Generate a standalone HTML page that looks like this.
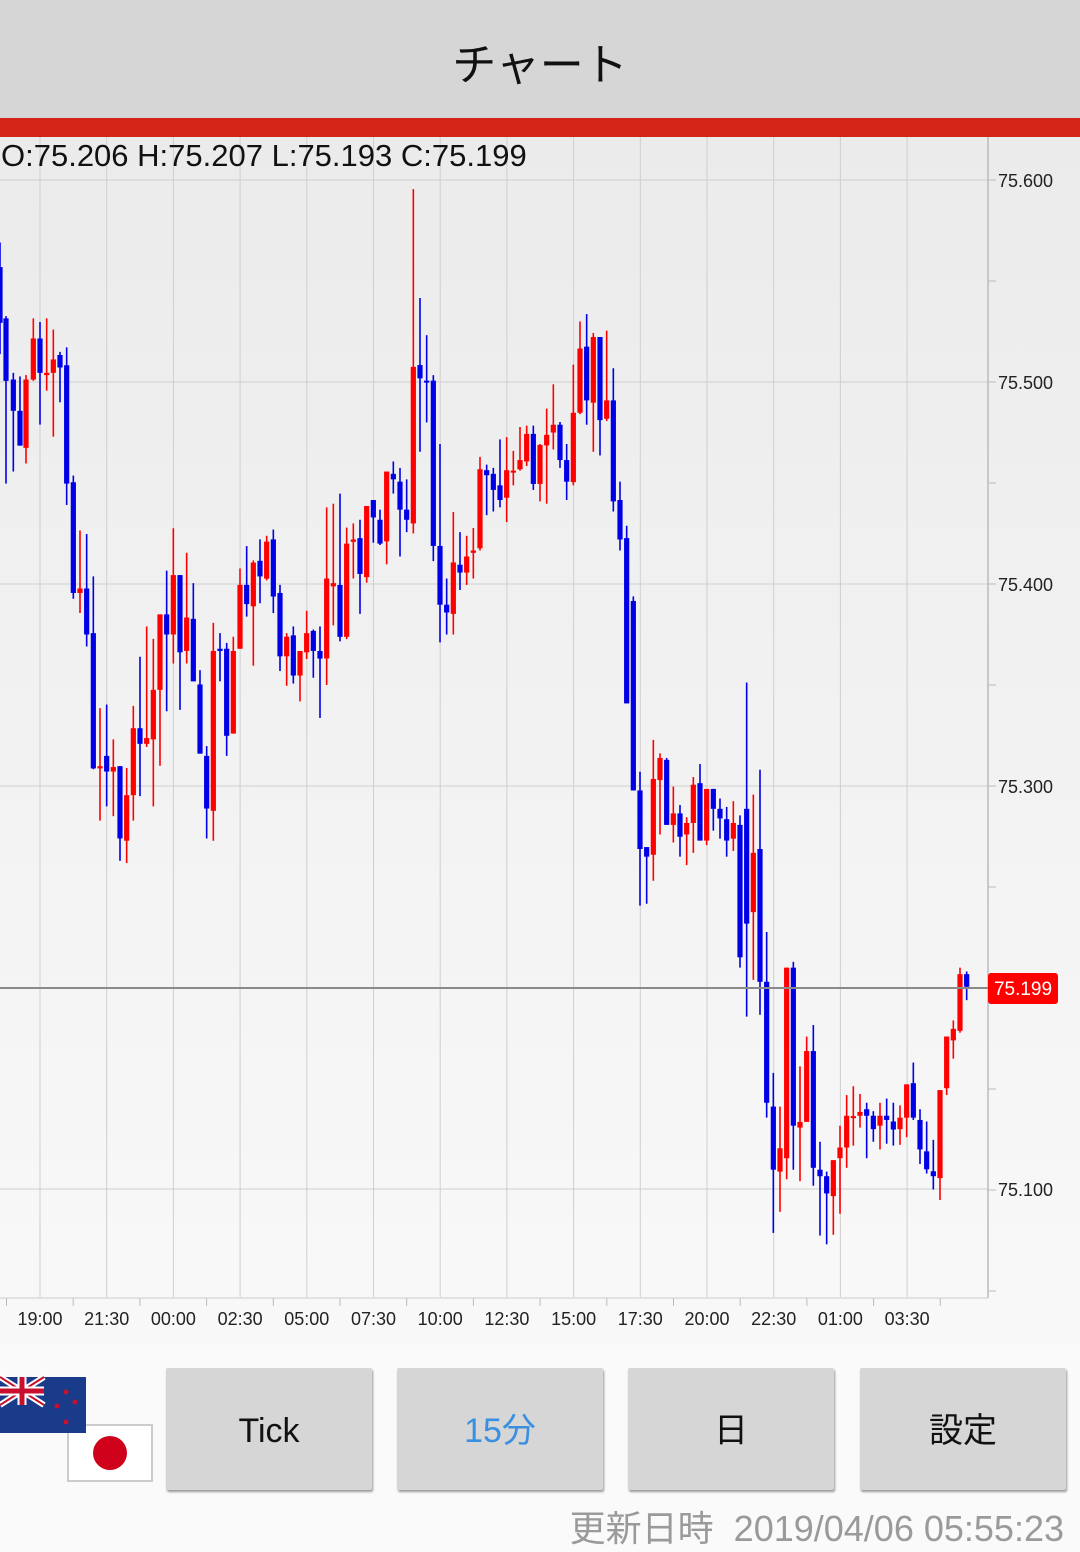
<!DOCTYPE html>
<html><head><meta charset="utf-8">
<style>
html,body{margin:0;padding:0;}
body{width:1080px;height:1551px;overflow:hidden;background:#fafafa;font-family:"Liberation Sans","Noto Sans CJK JP",sans-serif;position:relative;}
.hdr{position:absolute;left:0;top:0;width:1080px;height:118px;background:#d6d6d6;text-align:center;line-height:132px;font-size:44px;color:#111;}
.bar{position:absolute;left:0;top:118px;width:1080px;height:19px;background:#d42417;}
.btn{position:absolute;top:1368px;height:122px;width:206px;background:#d6d6d6;box-shadow:1px 2px 2px #999;text-align:center;line-height:126px;font-size:34px;color:#111;border-radius:2px;}
.foot{position:absolute;right:16px;top:1500px;font-size:36px;color:#9a9a9a;}
</style></head><body>
<div class="hdr">チャート</div>
<div class="bar"></div>
<svg id="ch" width="1080" height="1225" style="position:absolute;left:0;top:137px" xmlns="http://www.w3.org/2000/svg">
<defs><linearGradient id="g" x1="0" y1="0" x2="0" y2="1"><stop offset="0" stop-color="#ebebeb"/><stop offset="1" stop-color="#f9f9f9"/></linearGradient></defs>
<rect x="0" y="0" width="1080" height="1225" fill="url(#g)"/>
<g id="grid"></g>
<g id="cs"></g>
<text x="1" y="29" font-size="31" fill="#111" font-family="Liberation Sans, sans-serif">O:75.206 H:75.207 L:75.193 C:75.199</text>
</svg>
<div class="btn" style="left:166px">Tick</div>
<div class="btn" style="left:397px;color:#3b8fe0">15分</div>
<div class="btn" style="left:628px">日</div>
<div class="btn" style="left:860px">設定</div>
<svg width="160" height="115" style="position:absolute;left:0;top:1372px" xmlns="http://www.w3.org/2000/svg">
<rect x="68" y="53" width="84" height="56" fill="#fff" stroke="#ccc" stroke-width="2"/>
<circle cx="110" cy="81" r="17" fill="#d0021b"/>
<rect x="0" y="5" width="86" height="56" fill="#1a3a8a"/>
<path d="M0 5 L44 33 M44 5 L0 33" stroke="#fff" stroke-width="6"/>
<path d="M0 5 L44 33 M44 5 L0 33" stroke="#c8102e" stroke-width="2"/>
<path d="M22 5 V33 M0 19 H44" stroke="#fff" stroke-width="9"/>
<path d="M22 5 V33 M0 19 H44" stroke="#c8102e" stroke-width="5"/>
<circle cx="66" cy="20" r="2.5" fill="#c8102e"/><circle cx="57" cy="34" r="2.5" fill="#c8102e"/><circle cx="75" cy="30" r="2.5" fill="#c8102e"/><circle cx="66" cy="50" r="2.5" fill="#c8102e"/>
</svg>
<div class="foot">更新日時&nbsp; 2019/04/06 05:55:23</div>
<script>
var NS="http://www.w3.org/2000/svg",OY=137;
function el(p,t,a,txt){var e=document.createElementNS(NS,t);for(var k in a)e.setAttribute(k,a[k]);if(txt)e.textContent=txt;p.appendChild(e);return e;}
var g=document.getElementById('grid');
var lv=[[180,"75.600"],[382,"75.500"],[584,"75.400"],[786,"75.300"],[1189,"75.100"]];
[180,382,584,786,988,1189].forEach(function(y){el(g,'line',{x1:0,x2:988,y1:y-OY,y2:y-OY,stroke:'#cfcfcf','stroke-width':1});});
for(var y=180;y<1300;y+=101){el(g,'line',{x1:988,x2:996,y1:y-OY,y2:y-OY,stroke:'#bbb','stroke-width':1});}
lv.forEach(function(l){el(g,'text',{x:998,y:l[0]-OY+7,'font-size':18,fill:'#222','font-family':'Liberation Sans, sans-serif'},l[1]);});
var labs=["19:00","21:30","00:00","02:30","05:00","07:30","10:00","12:30","15:00","17:30","20:00","22:30","01:00","03:30"];
for(var i=0;i<14;i++){var x=40+i*66.7;el(g,'line',{x1:x,x2:x,y1:0,y2:1160,stroke:'#cfcfcf','stroke-width':1});
el(g,'text',{x:x,y:1318-OY+7,'font-size':18,fill:'#222','text-anchor':'middle','font-family':'Liberation Sans, sans-serif'},labs[i]);}
for(var i=0;i<15;i++){var x=6.5+i*66.7;el(g,'line',{x1:x,x2:x,y1:1161,y2:1169,stroke:'#bbb'});}
el(g,'line',{x1:988,x2:988,y1:0,y2:1161,stroke:'#bbb','stroke-width':1.5});
el(g,'line',{x1:0,x2:988,y1:1161,y2:1161,stroke:'#ccc','stroke-width':1});
var cs=document.getElementById('cs');
function add(offX,offY,sy,arr){arr.forEach(function(c){var x=offX+c[0]/3,col=c[1]=='R'?'#f00':'#0000e6';
var bt=offY+c[2]/sy-OY,bb=offY+c[3]/sy-OY,wt=offY+c[4]/sy-OY,wb=offY+c[5]/sy-OY;
el(cs,'line',{x1:x,x2:x,y1:wt,y2:wb,stroke:col,'stroke-width':1.6});
el(cs,'rect',{x:x-2.6,y:bt,width:5.2,height:Math.max(2,bb-bt),fill:col});});}
add(0,180,2.24,[[0,'B',195,320,140,390],[18,'B',310,450,305,680],[40,'B',447,517,432,653],[60,'B',517,595,440,595],[78,'R',447,600,437,635],[100,'R',355,447,310,450],[120,'B',355,432,318,548],[140,'R',432,437,310,472],[160,'R',402,432,335,575],[180,'B',392,420,385,498],[200,'B',415,680,375,728],[220,'B',677,925,662,938],[240,'R',915,925,785,970],[260,'B',915,1018,793,1045],[280,'B',1015,1318,888,1320],[300,'R',1313,1318,1183,1435],[320,'B',1290,1325,1175,1403],[340,'R',1315,1325,1253,1425],[360,'B',1313,1475,1313,1525],[380,'R',1378,1480,1317,1530],[400,'R',1228,1378,1178,1435],[420,'B',1228,1263,1068,1380],[440,'R',1250,1263,1000,1270],[460,'R',1142,1253,1028,1403],[480,'R',973,1142,973,1312],[500,'B',973,1018,875,1190],[520,'R',885,1018,780,1083],[540,'B',885,1058,885,1187],[560,'R',980,1055,835,1083],[580,'B',983,1123,903,1123],[600,'B',1130,1285,1098,1285],[620,'B',1290,1408,1268,1475],[640,'R',1055,1413,992,1480],[660,'B',1050,1055,1015,1123],[680,'B',1050,1245,1037,1290],[700,'R',1055,1240,1023,1240],[720,'R',907,1050,870,1050],[740,'B',907,950,820,978],[760,'R',857,955,852,1088],[780,'B',853,888,805,948],[800,'R',810,893,797,897],[820,'B',805,933,783,970],[840,'B',925,1067,907,1100],[860,'R',1023,1067,1015,1133],[880,'B',1020,1110,1000,1128],[900,'R',1055,1110,1055,1168],[920,'R',1015,1058,965,1073],[940,'B',1010,1055,1007,1115],[960,'B',1055,1072,1000,1205]]);
add(320,180,2.178,[[20,'R',868,1042,713,1100],[40,'R',878,885,705,970],[60,'B',882,995,683,1005],[80,'R',792,995,757,1000],[100,'R',783,788,748,868],[120,'B',780,858,740,945],[140,'R',710,865,710,877],[160,'B',697,735,697,790],[180,'B',740,792,718,795],[200,'R',635,787,635,837],[220,'B',640,652,613,683],[240,'B',657,718,627,820],[260,'B',718,740,652,767],[280,'R',407,748,20,770],[300,'B',403,432,257,592],[320,'B',437,440,338,528],[340,'B',437,797,425,830],[360,'B',797,925,575,1007],[380,'B',925,942,868,990],[400,'R',833,945,723,990],[420,'B',838,855,767,893],[440,'R',820,855,775,882],[460,'R',807,812,758,868],[480,'R',630,802,603,807],[500,'B',632,643,620,730],[520,'B',640,675,627,722],[540,'B',665,697,565,713],[560,'R',632,692,560,745],[580,'R',633,637,590,665],[600,'R',610,630,538,633],[620,'R',553,613,535,623],[640,'B',553,662,535,675],[660,'R',577,662,575,700],[680,'R',555,578,498,705],[700,'R',533,550,445,587],[720,'B',533,610,527,627],[740,'B',610,657,575,697],[760,'R',507,658,402,665],[780,'R',367,507,308,510],[800,'B',363,480,292,533],[820,'R',342,485,333,592],[840,'B',342,523,342,600],[860,'R',480,520,328,525],[880,'B',480,700,410,722],[900,'B',697,783,657,807],[920,'B',780,1140,753,1140]]);
add(620,650,2.613,[[40,'B',-128,367,-140,367],[60,'B',367,520,318,668],[80,'B',515,540,515,663],[100,'R',337,535,235,603],[120,'R',282,340,270,482],[140,'B',287,457,282,457],[160,'R',427,457,357,503],[180,'B',427,488,405,540],[200,'R',452,482,437,562],[220,'R',352,452,332,530],[240,'B',348,498,298,498],[260,'R',363,498,363,510],[280,'B',363,415,363,472],[300,'B',415,440,388,493],[320,'B',442,498,410,540],[340,'R',452,493,395,525],[360,'B',457,803,432,830],[380,'B',415,715,85,958],[400,'R',530,685,378,862],[420,'B',520,867,313,953],[440,'B',867,1183,737,1222],[460,'B',1193,1358,1105,1523],[480,'R',1302,1363,1193,1468],[500,'R',830,1328,830,1383],[520,'B',830,1243,815,1358],[540,'R',1233,1248,1088,1388],[560,'R',1048,1233,1010,1233],[580,'B',1048,1353,980,1400],[600,'B',1358,1375,1285,1530],[620,'B',1375,1420,1363,1553],[640,'R',1333,1427,1333,1528],[660,'R',1300,1328,1243,1473],[680,'R',1217,1300,1163,1353],[700,'R',1218,1220,1140,1295],[720,'R',1207,1217,1160,1248],[740,'B',1200,1217,1183,1328],[760,'B',1217,1252,1205,1285],[780,'R',1217,1243,1183,1305],[800,'B',1217,1228,1172,1290],[820,'B',1232,1253,1183,1295],[840,'R',1222,1252,1190,1293],[860,'R',1135,1222,1135,1273],[880,'B',1132,1222,1078,1228],[900,'B',1228,1305,1200,1343],[920,'B',1310,1357,1232,1368],[940,'B',1362,1375,1280,1410],[960,'R',1150,1380,1150,1437],[980,'R',1010,1145,1010,1163],[1000,'R',990,1020,968,1068],[1020,'R',847,995,830,1000],[1040,'B',847,880,840,915]]);
el(cs,'line',{x1:0,x2:988,y1:988-OY,y2:988-OY,stroke:'#8a8a8a','stroke-width':2});
el(cs,'rect',{x:988,y:973-OY,width:70,height:31,rx:3,fill:'#f00'});
el(cs,'text',{x:1023,y:995-OY,'font-size':19,fill:'#fff','text-anchor':'middle','font-family':'Liberation Sans, sans-serif'},'75.199');
</script>
</body></html>
